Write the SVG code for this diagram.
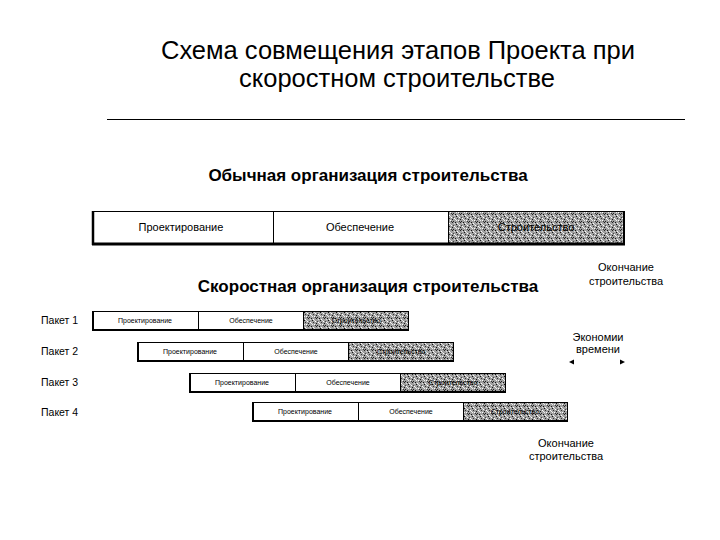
<svg xmlns="http://www.w3.org/2000/svg" width="720" height="540" viewBox="0 0 720 540">
<defs>
<pattern id="noise" width="8" height="8" patternUnits="userSpaceOnUse">
<rect width="8" height="8" fill="#a0a0a0"/>
<rect x="0" y="0" width="1" height="1" fill="#111"/>
<rect x="3" y="1" width="1" height="1" fill="#fff"/>
<rect x="1" y="2" width="1" height="1" fill="#333"/>
<rect x="4" y="3" width="1" height="1" fill="#111"/>
<rect x="2" y="4" width="1" height="1" fill="#fff"/>
<rect x="5" y="5" width="1" height="1" fill="#222"/>
<rect x="5" y="1" width="1" height="1" fill="#444"/>
<rect x="0" y="4" width="1" height="1" fill="#eee"/>
<rect x="2" y="0" width="1" height="1" fill="#ddd"/>
<rect x="3" y="5" width="1" height="1" fill="#333"/>
<rect x="6" y="2" width="1" height="1" fill="#fff"/>
<rect x="7" y="6" width="1" height="1" fill="#111"/>
<rect x="1" y="7" width="1" height="1" fill="#fff"/>
<rect x="6" y="7" width="1" height="1" fill="#ddd"/>
<rect x="4" y="6" width="1" height="1" fill="#222"/>
<rect x="7" y="3" width="1" height="1" fill="#eee"/>
</pattern>
</defs>
<style>
.t{font-family:"Liberation Sans",Arial,sans-serif;fill:#000}
.title{font-size:25.5px;text-anchor:middle}
.sub{font-size:17px;font-weight:bold;text-anchor:middle}
.lbl{font-size:11px;text-anchor:middle}
.sm{font-size:7px;text-anchor:middle}
.pk{font-size:10.5px}
.note{font-size:11px;text-anchor:middle}
.box{fill:#fff;stroke:#000;stroke-width:1}
.sh{fill:url(#noise);stroke:#000;stroke-width:1}
.edge{stroke:#000;fill:none}
</style>
<rect width="720" height="540" fill="#fff"/>
<text class="t title" x="398" y="59">Схема совмещения этапов Проекта при</text>
<text class="t title" x="397" y="87">скоростном строительстве</text>
<line x1="107" y1="119.5" x2="685" y2="119.5" stroke="#000" stroke-width="1"/>

<text class="t sub" x="368" y="181">Обычная организация строительства</text>
<g id="normal">
<rect class="box" x="92.5" y="211.5" width="181" height="32"/>
<rect class="box" x="273.5" y="211.5" width="175" height="32"/>
<rect class="sh" x="448.5" y="211.5" width="175" height="32"/>
<line class="edge" x1="92" y1="244" x2="625" y2="244" stroke-width="3"/>
<line class="edge" x1="93" y1="211" x2="93" y2="245" stroke-width="2.5"/>
<line class="edge" x1="624" y1="211" x2="624" y2="245" stroke-width="2"/>
<text class="t lbl" x="181" y="231">Проектирование</text>
<text class="t lbl" x="360" y="231">Обеспечение</text>
<text class="t lbl" x="536" y="231" fill="#111">Строительство</text>
</g>

<text class="t sub" x="368" y="292">Скоростная организация строительства</text>

<g id="packet1">
<text class="t pk" x="41" y="324">Пакет 1</text>
<rect class="box" x="92.5" y="311.5" width="106" height="18"/>
<rect class="box" x="198.5" y="311.5" width="105" height="18"/>
<rect class="sh" x="303.5" y="311.5" width="105" height="18"/>
<line class="edge" x1="92" y1="330" x2="409" y2="330" stroke-width="2"/>
<line class="edge" x1="93" y1="311" x2="93" y2="331" stroke-width="2"/>
<text class="t sm" x="145" y="322.5">Проектирование</text>
<text class="t sm" x="251" y="322.5">Обеспечение</text>
<text class="t sm" x="356" y="322.5">Строительство</text>
</g>

<g id="packet2">
<text class="t pk" x="41" y="355">Пакет 2</text>
<rect class="box" x="137.5" y="342.5" width="106" height="18"/>
<rect class="box" x="243.5" y="342.5" width="105" height="18"/>
<rect class="sh" x="348.5" y="342.5" width="105" height="18"/>
<line class="edge" x1="137" y1="361" x2="454" y2="361" stroke-width="2"/>
<line class="edge" x1="138" y1="342" x2="138" y2="362" stroke-width="2"/>
<text class="t sm" x="190" y="353.5">Проектирование</text>
<text class="t sm" x="296" y="353.5">Обеспечение</text>
<text class="t sm" x="401" y="353.5">Строительство</text>
</g>

<g id="packet3">
<text class="t pk" x="41" y="386">Пакет 3</text>
<rect class="box" x="189.5" y="373.5" width="106" height="18"/>
<rect class="box" x="295.5" y="373.5" width="105" height="18"/>
<rect class="sh" x="400.5" y="373.5" width="105" height="18"/>
<line class="edge" x1="189" y1="392" x2="506" y2="392" stroke-width="2"/>
<line class="edge" x1="190" y1="373" x2="190" y2="393" stroke-width="2"/>
<text class="t sm" x="242" y="384.5">Проектирование</text>
<text class="t sm" x="348" y="384.5">Обеспечение</text>
<text class="t sm" x="453" y="384.5">Строительство</text>
</g>

<g id="packet4">
<text class="t pk" x="41" y="416">Пакет 4</text>
<rect class="box" x="252.5" y="402.5" width="106" height="18"/>
<rect class="box" x="358.5" y="402.5" width="105" height="18"/>
<rect class="sh" x="463.5" y="402.5" width="104" height="18"/>
<line class="edge" x1="252" y1="421" x2="568" y2="421" stroke-width="2"/>
<line class="edge" x1="253" y1="402" x2="253" y2="422" stroke-width="2"/>
<text class="t sm" x="305" y="413.5">Проектирование</text>
<text class="t sm" x="411" y="413.5">Обеспечение</text>
<text class="t sm" x="515" y="413.5">Строительство</text>
</g>

<g id="end1">
<text class="t note" x="626" y="271">Окончание</text>
<text class="t note" x="626" y="285">строительства</text>
</g>
<g id="economy">
<text class="t note" x="598" y="341">Экономии</text>
<text class="t note" x="598" y="353">времени</text>
</g>
<g id="connectors">
<polygon points="569,362 574,359.5 574,364.5" fill="#000"/>
<polygon points="625,362 620,359.5 620,364.5" fill="#000"/>
</g>
<g id="end2">
<text class="t note" x="566" y="447">Окончание</text>
<text class="t note" x="566" y="460">строительства</text>
</g>
</svg>
